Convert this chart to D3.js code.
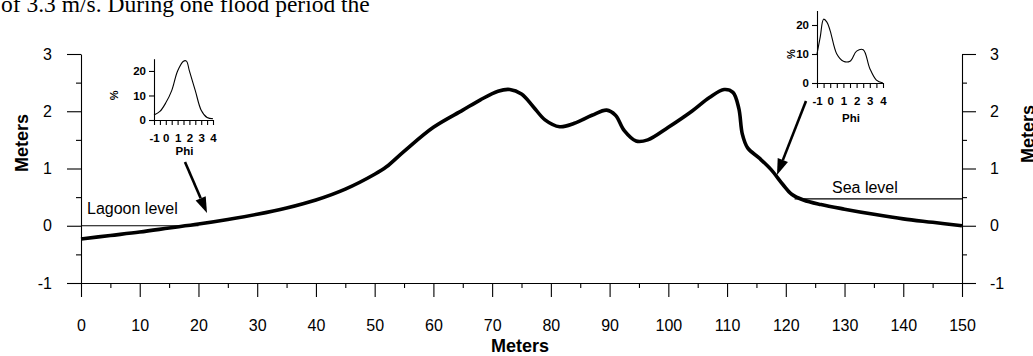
<!DOCTYPE html>
<html>
<head>
<meta charset="utf-8">
<script src="https://cdn.jsdelivr.net/npm/d3@7"></script>
<style>
body { margin: 0; background: #fff; }
svg { display: block; font-family: Arial, "Liberation Sans", sans-serif; }
</style>
</head>
<body>
<div id="canvas"></div>
<script>
"use strict"

let svgWidth = 1033;
let svgHeight = 356;

/* Beach profile: distance (m) and elevation (m) */
let distance = [0, 5, 10, 15, 20, 25, 30, 35, 40, 45, 50, 52, 55, 60, 65, 68, 71, 73, 75, 77, 79,
    81.5, 84, 87, 89.5, 91, 92.5, 94.5, 96.5, 100, 104, 107, 109.5, 111, 112, 112.6, 113.5, 115.5,
    117.5, 119.5, 121, 123, 126, 130, 135, 140, 145, 150];
let elevation = [-0.23, -0.17, -0.11, -0.04, 0.03, 0.11, 0.2, 0.31, 0.45, 0.64, 0.9, 1.03, 1.3, 1.72,
    2.02, 2.2, 2.35, 2.38, 2.3, 2.08, 1.85, 1.73, 1.79, 1.93, 2.02, 1.93, 1.66, 1.48, 1.5, 1.72, 2.0,
    2.24, 2.38, 2.33, 2.05, 1.6, 1.36, 1.18, 0.98, 0.72, 0.55, 0.45, 0.37, 0.29, 0.2, 0.12, 0.06, 0.0];

let xTicks = [0, 10, 20, 30, 40, 50, 60, 70, 80, 90, 100, 110, 120, 130, 140, 150];
let yTicks = [-1, 0, 1, 2, 3];

let lagoonLevel = 0;     // m
let seaLevel = 0.47;     // m

/* Grain size curves (phi, %) */
let lagoonPhi = [-1, -0.5, 0, 0.5, 1, 1.5, 1.75, 2, 2.5, 3, 3.5, 4];
let lagoonPct = [2, 3.5, 7, 12, 20, 24, 24, 20, 12, 4, 1, 0.5];
let seaPhi = [-1, -0.75, -0.5, -0.25, 0, 0.5, 1, 1.5, 2, 2.5, 3, 3.5, 4];
let seaPct = [10, 16, 22, 21, 18, 10, 7.5, 7.5, 11, 11.5, 5, 1, 0];
let phiTicks = [-1, 0, 1, 2, 3, 4];
let pctTicks = [0, 10, 20];

let svg = d3.select("#canvas")
    .append("svg")
    .attr("width", svgWidth)
    .attr("height", svgHeight);

/* text from the page above the figure */
svg.append("text")
    .attr("x", 1)
    .attr("y", 12)
    .style("font-family", "'Liberation Serif', 'Times New Roman', serif")
    .style("font-size", "23.5px")
    .text("of 3.3 m/s. During one flood period the");

/* main scales */
let xScale = d3.scaleLinear().domain([0, 150]).range([81, 962]);
let yScale = d3.scaleLinear().domain([-1, 3]).range([283, 54]);

function styleAxis(g) {
    g.selectAll("path, line").attr("stroke", "#000").attr("stroke-width", 1.1);
    g.selectAll("text").attr("fill", "#000").style("font-size", "16px").style("font-family", "Arial, 'Liberation Sans', sans-serif");
}

/* minor ticks */
svg.append("g")
    .attr("transform", "translate(0,283)")
    .call(d3.axisBottom(xScale).tickValues(d3.range(5, 150, 10)).tickSize(5).tickFormat(""))
    .call(g => g.select(".domain").remove())
    .call(styleAxis);
svg.append("g")
    .attr("transform", "translate(81,0)")
    .call(d3.axisLeft(yScale).tickValues(d3.range(-0.5, 3, 1)).tickSize(5).tickFormat(""))
    .call(g => g.select(".domain").remove())
    .call(styleAxis);
svg.append("g")
    .attr("transform", "translate(962,0)")
    .call(d3.axisRight(yScale).tickValues(d3.range(-0.5, 3, 1)).tickSize(5).tickFormat(""))
    .call(g => g.select(".domain").remove())
    .call(styleAxis);

/* major axes */
svg.append("g")
    .attr("transform", "translate(0,283)")
    .call(d3.axisBottom(xScale).tickValues(xTicks).tickSize(14).tickSizeOuter(0).tickPadding(23))
    .call(styleAxis);
svg.append("g")
    .attr("transform", "translate(81,0)")
    .call(d3.axisLeft(yScale).tickValues(yTicks).tickSize(14).tickSizeOuter(0).tickPadding(15)
        .tickFormat(d => String(d)))
    .call(styleAxis);
svg.append("g")
    .attr("transform", "translate(962,0)")
    .call(d3.axisRight(yScale).tickValues(yTicks).tickSize(14).tickSizeOuter(0).tickPadding(14)
        .tickFormat(d => String(d)))
    .call(styleAxis);

/* axis titles */
svg.append("text")
    .attr("x", 520)
    .attr("y", 352)
    .attr("text-anchor", "middle")
    .style("font-size", "18px")
    .style("font-weight", "bold")
    .text("Meters");
svg.append("text")
    .attr("transform", "translate(28,143) rotate(-90)")
    .attr("text-anchor", "middle")
    .style("font-size", "18px")
    .style("font-weight", "bold")
    .text("Meters");
svg.append("text")
    .attr("transform", "translate(1034,134) rotate(-90)")
    .attr("text-anchor", "middle")
    .style("font-size", "18px")
    .style("font-weight", "bold")
    .text("Meters");

/* water levels */
svg.append("line")
    .attr("x1", xScale(0)).attr("x2", xScale(20))
    .attr("y1", yScale(lagoonLevel)).attr("y2", yScale(lagoonLevel))
    .attr("stroke", "#000").attr("stroke-width", 1.1);
svg.append("text")
    .attr("x", 87).attr("y", 214)
    .style("font-size", "16px")
    .text("Lagoon level");

svg.append("line")
    .attr("x1", xScale(121.5)).attr("x2", xScale(150))
    .attr("y1", yScale(seaLevel)).attr("y2", yScale(seaLevel))
    .attr("stroke", "#000").attr("stroke-width", 1.1);
svg.append("text")
    .attr("x", 832).attr("y", 193)
    .style("font-size", "16px")
    .text("Sea level");

/* profile */
let profile = distance.map((d, i) => ({ x: d, y: elevation[i] }));
svg.append("path")
    .datum(profile)
    .attr("fill", "none")
    .attr("stroke", "#000")
    .attr("stroke-width", 3.6)
    .attr("stroke-linejoin", "round")
    .attr("d", d3.line().x(d => xScale(d.x)).y(d => yScale(d.y)).curve(d3.curveCatmullRom));

/* grain size insets */
function drawInset(phi, pct, xRange, yRange, pctLabelX, phiLabelY) {
    let xs = d3.scaleLinear().domain([-1, 4]).range(xRange);
    let ys = d3.scaleLinear().domain([0, 25]).range(yRange);
    let g = svg.append("g");
    g.append("g")
        .attr("transform", "translate(0," + yRange[0] + ")")
        .call(d3.axisBottom(xs).tickValues(d3.range(-1, 4.01, 0.5)).tickSize(5).tickSizeOuter(0)
            .tickPadding(9).tickFormat(d => Number.isInteger(d) ? String(d) : ""))
        .call(styleAxis)
        .call(a => a.selectAll("text").style("font-size", "11.5px").style("font-weight", "bold"));
    g.append("g")
        .attr("transform", "translate(" + xRange[0] + ",0)")
        .call(d3.axisLeft(ys).tickValues(pctTicks).tickSize(5)
            .tickSizeOuter(0).tickPadding(3).tickFormat(d => String(d)))
        .call(styleAxis)
        .call(a => a.selectAll("text").style("font-size", "11.5px").style("font-weight", "bold"));
    g.append("text")
        .attr("transform", "translate(" + pctLabelX + "," + ys(10) + ") rotate(-90)")
        .attr("text-anchor", "middle")
        .style("font-size", "11px")
        .style("font-weight", "bold")
        .text("%");
    g.append("text")
        .attr("x", (xRange[0] + xRange[1]) / 2 + 1)
        .attr("y", phiLabelY)
        .attr("text-anchor", "middle")
        .style("font-size", "11.5px")
        .style("font-weight", "bold")
        .text("Phi");
    g.append("path")
        .datum(phi.map((d, i) => ({ x: d, y: pct[i] })))
        .attr("fill", "none")
        .attr("stroke", "#000")
        .attr("stroke-width", 1.1)
        .attr("d", d3.line().x(d => xs(d.x)).y(d => ys(d.y)).curve(d3.curveCatmullRom));
}

drawInset(lagoonPhi, lagoonPct, [154, 213], [120, 58.7], 118, 155);
drawInset(seaPhi, seaPct, [817, 883], [83, 10.5], 795, 122);

/* arrows pointing to sample locations */
function arrow(x1, y1, x2, y2) {
    let a = Math.atan2(y2 - y1, x2 - x1);
    let len = 16, w = 5.5;
    let bx = x2 - len * Math.cos(a), by = y2 - len * Math.sin(a);
    svg.append("line")
        .attr("x1", x1).attr("y1", y1).attr("x2", bx).attr("y2", by)
        .attr("stroke", "#000").attr("stroke-width", 2.6);
    svg.append("polygon")
        .attr("points", [
            [x2, y2],
            [bx + w * Math.sin(a), by - w * Math.cos(a)],
            [bx - w * Math.sin(a), by + w * Math.cos(a)]
        ].map(p => p.join(",")).join(" "))
        .attr("fill", "#000");
}
arrow(185, 162, 207, 213);
arrow(806, 101, 777, 175);
</script>
</body>
</html>
